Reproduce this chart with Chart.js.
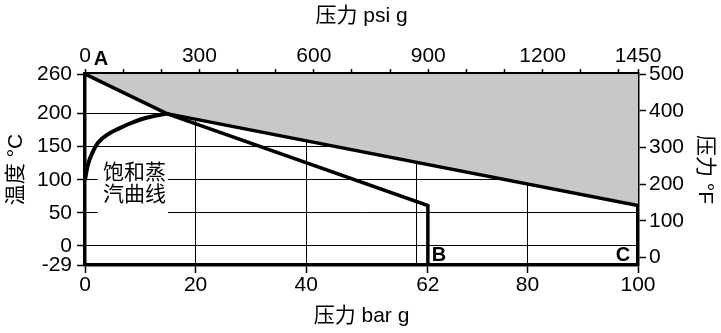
<!DOCTYPE html>
<html lang="zh">
<head>
  <meta charset="UTF-8">
  <title>压力-温度</title>
  <script src="https://cdn.jsdelivr.net/npm/chart.js"></script>
  <style>
    html, body { margin: 0; padding: 0; background: #fff; }
    #wrap { width: 721px; height: 333px; position: relative; }
  </style>
</head>
<body>
  <div id="wrap"><canvas id="ptChart"></canvas></div>

  <script>
    // axis ticks
    const barTicks = [0, 20, 40, 62, 80, 100];
    const barGrid = [20, 40, 60, 80];
    const tempTicks = [-29, 0, 50, 100, 150, 200, 260];
    const tempGrid = [0, 50, 100, 150, 200];
    const psiLabels = [0, 300, 600, 900, 1200, 1450];
    const psiMarks = [0, 100, 200, 300, 400, 500, 600, 700, 800, 900, 1000, 1100, 1200, 1300, 1400, 1450];
    const fTicks = [0, 100, 200, 300, 400, 500];

    // A -> bend -> B limit line
    const limitBar = [0, 14.8, 62, 62];
    const limitC = [260, 200, 61, -29];
    // upper limit line towards C
    const upperBar = [14.8, 100];
    const upperC = [200, 61];
    // saturated steam curve
    const satBar = [0, 0.5, 1.45, 2.35, 4.2, 6, 7.8, 10.8, 14.8];
    const satC = [100, 122, 143, 156, 169, 177, 184, 193, 200];
    // grey region edge (filled up to the top)
    const greyBar = [0, 14.8, 100];
    const greyC = [260, 200, 61];

    const pts = (xs, ys) => xs.map((x, i) => ({ x: x, y: ys[i] }));
    const setTicks = list => scale => { scale.ticks = list.map(v => ({ value: v })); };

    Chart.defaults.font.family = "'Liberation Sans', 'Noto Sans CJK SC', sans-serif";
    Chart.defaults.font.size = 21;
    Chart.defaults.color = '#000';

    // white box behind the curve label + letters A, B, C
    const labelPlugin = {
      id: 'labels',
      beforeDatasetsDraw(chart) {
        const { ctx, scales: { x, y } } = chart;
        const l = x.getPixelForValue(2.3), r = x.getPixelForValue(15);
        const t = y.getPixelForValue(128), b = y.getPixelForValue(46);
        ctx.save();
        ctx.fillStyle = '#fff';
        ctx.fillRect(l, t, r - l, b - t);
        ctx.restore();
      },
      afterDraw(chart) {
        const { ctx, scales: { x, y }, chartArea } = chart;
        ctx.save();
        ctx.fillStyle = '#000';
        ctx.textBaseline = 'middle';
        ctx.textAlign = 'left';
        ctx.font = "21px 'Noto Sans CJK SC', sans-serif";
        const lx = x.getPixelForValue(0) + 18;
        ctx.fillText('饱和蒸', lx, 171);
        ctx.fillText('汽曲线', lx, 193);
        ctx.font = "bold 20px 'Liberation Sans', sans-serif";
        ctx.textAlign = 'center';
        ctx.fillText('A', x.getPixelForValue(0) + 16, chartArea.top - 15);
        ctx.fillText('B', x.getPixelForValue(62) + 11, chartArea.bottom - 10);
        ctx.fillText('C', chartArea.right - 15, chartArea.bottom - 10);
        ctx.restore();
      }
    };

    const lineStyle = { borderColor: '#000', pointRadius: 0, fill: false, borderJoinStyle: 'miter' };

    new Chart(document.getElementById('ptChart'), {
      type: 'line',
      data: {
        datasets: [
          Object.assign({ data: pts(limitBar, limitC), borderWidth: 3.5 }, lineStyle),
          Object.assign({ data: pts(upperBar, upperC), borderWidth: 3.5 }, lineStyle),
          Object.assign({ data: pts(satBar, satC), borderWidth: 4, cubicInterpolationMode: 'monotone' }, lineStyle),
          {
            data: pts(greyBar, greyC),
            borderWidth: 0,
            pointRadius: 0,
            fill: 'end',
            backgroundColor: '#c8c8c8'
          }
        ]
      },
      options: {
        responsive: true,
        maintainAspectRatio: false,
        animation: false,
        layout: { padding: 0 },
        plugins: { legend: { display: false }, tooltip: { enabled: false } },
        scales: {
          x: {
            type: 'linear', position: 'bottom', min: 0, max: 100,
            afterBuildTicks: setTicks([0, 20, 40, 60, 62, 80, 100]),
            afterFit: s => { s.height = 68; },
            ticks: {
              autoSkip: false, maxRotation: 0, padding: 0,
              callback: v => barTicks.includes(v) ? String(v) : ''
            },
            grid: {
              color: c => barGrid.includes(c.tick.value) ? '#000' : 'transparent',
              tickColor: c => barTicks.includes(c.tick.value) ? '#000' : 'transparent',
              lineWidth: 1, tickWidth: 1.5, tickLength: 8
            },
            border: { color: '#000', width: 3.5 },
            title: { display: true, text: '压力 bar g' }
          },
          x2: {
            type: 'linear', position: 'top', min: 0, max: 1450, z: 1,
            afterBuildTicks: setTicks(psiMarks),
            afterFit: s => { s.height = 74; },
            ticks: {
              autoSkip: false, maxRotation: 0, padding: 0,
              callback: v => psiLabels.includes(v) ? String(v) : ''
            },
            grid: { drawOnChartArea: false, color: '#000', tickWidth: 1.5, tickLength: 5 },
            border: { color: '#000', width: 3.5 },
            title: { display: true, text: '压力 psi g' }
          },
          y: {
            type: 'linear', position: 'left', min: -29, max: 260,
            afterBuildTicks: setTicks(tempTicks),
            afterFit: s => { s.width = 85; },
            ticks: { autoSkip: false, padding: 5 },
            grid: {
              color: c => tempGrid.includes(c.tick.value) ? '#000' : 'transparent',
              tickColor: '#000',
              lineWidth: 1, tickWidth: 1.5, tickLength: 8
            },
            border: { color: '#000', width: 3.5 },
            title: { display: true, text: '温度 °C' }
          },
          y2: {
            type: 'linear', position: 'right', min: -20.2, max: 500, z: 1,
            afterBuildTicks: setTicks(fTicks),
            afterFit: s => { s.width = 83; },
            ticks: { autoSkip: false, padding: 3 },
            grid: { drawOnChartArea: false, color: '#000', tickWidth: 1.5, tickLength: 8 },
            border: { color: '#000', width: 3.5 },
            title: { display: true, text: '压力 °F' }
          }
        }
      },
      plugins: [labelPlugin]
    });
  </script>
</body>
</html>
